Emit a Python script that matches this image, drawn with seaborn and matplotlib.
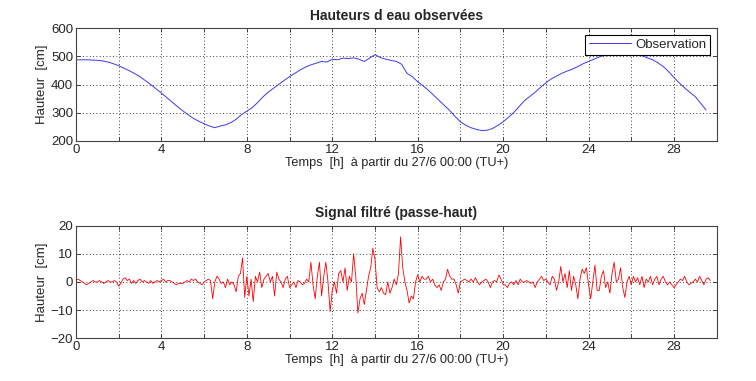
import matplotlib as mpl
import matplotlib.pyplot as plt
import numpy as np
import pandas as pd
import seaborn as sns

mpl.use("Agg")

# observed water level, every 15 min from 27/6 00:00
obs_step = 0.25
obs_cm = [
    488, 488, 488, 487, 486, 484, 480, 474, 467, 458, 449, 439,
    428, 414, 400, 385, 370, 354, 338, 322, 307, 293, 280, 270,
    261, 253, 247, 253, 257, 265, 277, 293, 306, 318, 336, 356,
    373, 387, 401, 415, 428, 440, 452, 462, 470, 476, 482, 480,
    490, 488, 494, 492, 495, 490, 482, 494, 506, 496, 490, 486,
    482, 472, 440, 428, 410, 396, 380, 362, 344, 326, 308, 287,
    268, 256, 247, 241, 237, 238, 244, 255, 268, 284, 301, 322,
    343, 358, 373, 390, 406, 420, 430, 440, 448, 455, 464, 474,
    482, 490, 498, 504, 508, 512, 514, 514, 512, 508, 502, 495,
    488, 477, 464, 446, 425, 406, 388, 372, 357, 334, 310,
]

# high-pass filtered signal, every 6 min (one row per hour)
filt_step = 0.1
filt_cm = [
    0.5, 1, 0.5, 0, -0.5, -1, -0.5, 0, 0.5, 0,
    0, 0.5, 0, -0.5, 0, 0.5, 0, 0, 0.5, 0,
    -1.5, -0.5, 1, 1.5, 0.5, 1, -0.5, 0.5, -0.5, 0.5,
    1, 0, 0.5, 0, -0.5, 0.5, -0.5, 0, 0.5, 0,
    0.5, 1, 0, 0.5, 0.5, 0, -0.5, -1, -0.5, -0.5,
    -0.5, 0, 0.5, 0, 1, 0.5, 1, 0, -0.5, -1,
    0, 0.5, 1, 0.5, -6, 0, 2, 1, -0.5, 0,
    -2, 1, -1, 0, -1, -3.5, 2, 3, 8.5, -5.5,
    2, -5, 1, -7, 2, 0, 3.5, -2, 1, 2,
    3, 0, 2, -5, 3.5, 1, 0, -2, 1, 2,
    -2, -1, 0, -2, 0.5, 0, -1, -0.5, 1, 0,
    7, -1, -6, 2, 7, -5, 2, 7, 0, -10.5,
    -3, 0, -4, 3, 4, 0, 5, -3, 2, 0,
    10, 2, -11, -6, -4, -8, -3, 2, 5, 12,
    8, -2, -3.5, -2, -4, -4.5, 0, -4, -2, 1,
    -1, 3, 16, 5, 0, -3, -7.5, -5, -6, 0,
    2.5, 0, 2, 1, 1, 2, 0, 1, -1, -2,
    -1, -3, 0, 1, 4.5, 2, 1, 1, -1, -4,
    0, 0.5, 1, 0.5, 0, 1, 0, 1.5, 0, -1,
    0, 0.5, 1, 0, -2, 0, 0.5, 0, 2.5, 1,
    -1, -1, -2, -0.5, 0, -1, 0.5, -1, 1, 0,
    0, 0.5, 0, -0.5, 0, -2, 0, 1, 2, 0.5,
    1, 0, -1, 2, 1, -3, 0, 5.5, 0, 3,
    -2, 4, -3, 2, -1, -6, 1, 4.5, 3, 5,
    -1, -6, 0, 6, -3, -3, 2, 4, -2, 0,
    -4, 3, 7, 0, 1, 5, -2, -5.5, 0, 2,
    -1, 2, 0, 1.5, -1, 2, -2, 1, 0, 2,
    -1, 1, 2, -1, 1, 2, 0, -1, 0, -1,
    -2, -1, 0, 1, 0.5, 2, 0, -1, -0.5, 0,
    1, 0, 2, 0.5, -1, 1, 1.5, 0.5,
]

x_label = "Temps  [h]  à partir du 27/6 00:00 (TU+)"
y_label = "Hauteur  [cm]"

obs = pd.DataFrame({"t": np.arange(len(obs_cm)) * obs_step, "h": obs_cm})
filt = pd.DataFrame({"t": np.arange(len(filt_cm)) * filt_step, "h": filt_cm})

sns.set_style("ticks")
plt.rcParams["font.family"] = ["Liberation Sans", "DejaVu Sans"]
plt.rcParams["font.size"] = 9.5
plt.rcParams["xtick.direction"] = "in"
plt.rcParams["ytick.direction"] = "in"


def matlab_axes(ax, ylim, ystep):
    ax.set_xlim(0, 30)
    ax.set_ylim(*ylim)
    ax.set_xticks(np.arange(0, 31, 2))
    ax.set_xticklabels([str(v) if v % 4 == 0 and v < 30 else "" for v in range(0, 31, 2)])
    ax.set_yticks(np.arange(ylim[0], ylim[1] + 1, ystep))
    ax.tick_params(top=True, right=True, length=3, width=0.6, labelsize=9.5, pad=2)
    ax.grid(True, color="black", linestyle=(0, (1, 3)), linewidth=0.6)
    for s in ax.spines.values():
        s.set_linewidth(0.8)
        s.set_color("#444444")
    ax.set_xlabel(x_label, fontsize=9.2, labelpad=1)
    ax.set_ylabel(y_label, fontsize=9.5, labelpad=2)


fig = plt.figure(figsize=(7.56, 3.81), dpi=100)
ax1 = fig.add_axes([0.1005, 0.63, 0.8475, 0.296])
ax2 = fig.add_axes([0.1005, 0.112, 0.8475, 0.296])

sns.lineplot(data=obs, x="t", y="h", ax=ax1, color="#3a3af0", linewidth=0.7)
matlab_axes(ax1, (200, 600), 100)
ax1.set_title("Hauteurs d eau observées", fontsize=10, fontweight="bold", pad=6)
leg = ax1.legend(handles=[ax1.lines[0]], labels=["Observation"], loc="upper right",
                 fancybox=False, framealpha=1, edgecolor="black", fontsize=9.5,
                 handlelength=3.2, handletextpad=0.3, borderpad=0.3, borderaxespad=0.5)
leg.get_frame().set_linewidth(0.8)

sns.lineplot(data=filt, x="t", y="h", ax=ax2, color="#ff0000", linewidth=0.6)
matlab_axes(ax2, (-20, 20), 10)
ax2.set_title("Signal filtré (passe-haut)", fontsize=10, fontweight="bold", pad=6)

fig.savefig("out.png", dpi=100)
